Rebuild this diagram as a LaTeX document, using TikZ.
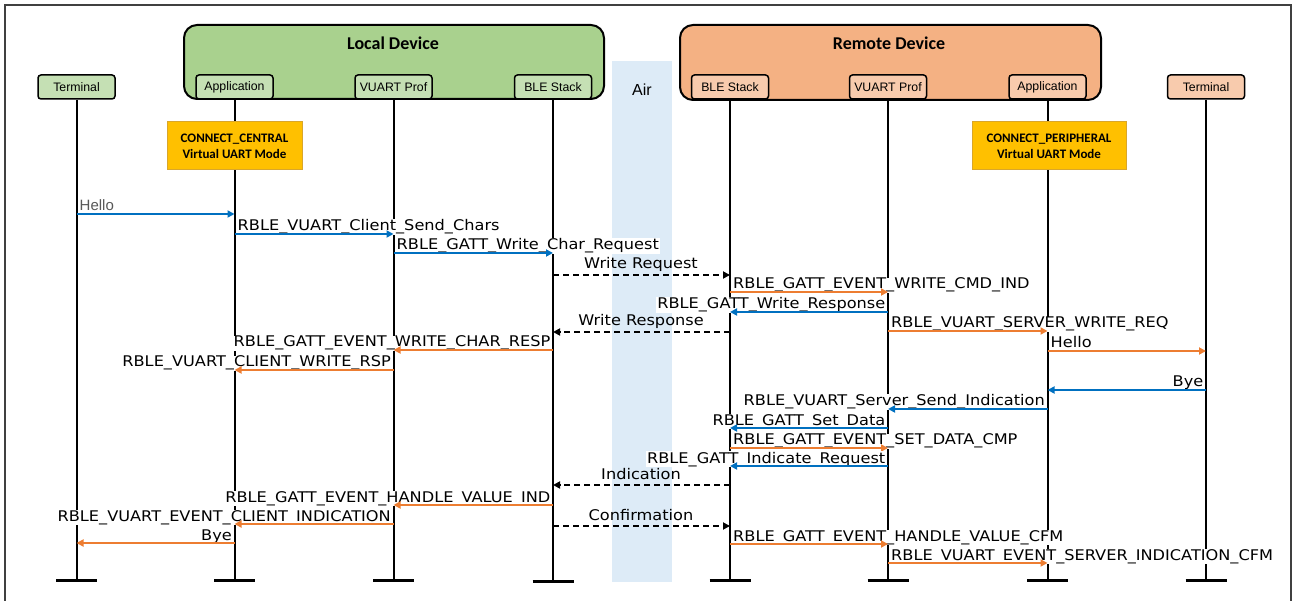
\documentclass[tikz,border=0pt]{standalone}
\usepackage{fontspec}
\usetikzlibrary{arrows.meta}
\newfontfamily\arialf{Liberation Sans}
\newfontfamily\calf{Carlito}
\newfontfamily\msgf{DejaVu Sans}[FakeStretch=1.10]
\definecolor{locg}{HTML}{A9D18E}
\definecolor{locsub}{HTML}{C5E0B4}
\definecolor{remo}{HTML}{F4B183}
\definecolor{remsub}{HTML}{F8CBAD}
\definecolor{airc}{HTML}{DDEBF7}
\definecolor{modef}{HTML}{FFC000}
\definecolor{moded}{HTML}{D9A62B}
\definecolor{blu}{HTML}{0070C0}
\definecolor{org}{HTML}{ED7D31}
\definecolor{hellog}{HTML}{595959}
\tikzset{
 devbox/.style={draw=black, line width=2pt, rounded corners=13pt, inner sep=0pt},
 subbox/.style={draw=black, line width=1.5pt, rounded corners=3pt, minimum width=77pt, minimum height=24pt, inner sep=0pt, font=\arialf\fontsize{12.3}{14}\selectfont},
 life/.style={line width=2pt},
 bar/.style={line width=3pt},
 modebox/.style={draw=moded, fill=modef, line width=1pt, minimum height=48pt, inner sep=0pt, align=center, font=\calf\bfseries\fontsize{13}{16}\selectfont},
 lbl/.style={fill=white, inner xsep=1pt, inner ysep=0.5pt, font=\msgf\fontsize{14.7}{17}\selectfont},
 dlbl/.style={inner sep=0pt, font=\msgf\fontsize{14.7}{17}\selectfont},
 tipstyle/.style={-{Triangle[length=7pt,width=7pt]}},
 bluemsg/.style={tipstyle, draw=blu, line width=1.8pt},
 orgmsg/.style={tipstyle, draw=org, line width=1.8pt},
 dashmsg/.style={tipstyle, draw=black, line width=1.8pt, dash pattern=on 6pt off 4pt},
}
\newcommand\msgR[5]{%
  \coordinate (ms) at (#1 |- 0,#3);
  \coordinate (me) at (#2 |- 0,#3);
  \node[lbl, anchor=base west] (ml) at ([shift={(2pt,3pt)}]ms) {#5};
  \draw[#4] (ms) -- (me);}
\newcommand\msgL[5]{%
  \coordinate (ms) at (#1 |- 0,#3);
  \coordinate (me) at (#2 |- 0,#3);
  \node[lbl, anchor=base east] (ml) at ([shift={(-1.5pt,3pt)}]ms) {#5};
  \draw[#4] (ms) -- (me);}
\newcommand\msgD[4]{%
  \coordinate (ms) at (#1 |- 0,#3);
  \coordinate (me) at (#2 |- 0,#3);
  \coordinate (mc) at (641,#3);
  \node[dlbl, anchor=base] (ml) at ([yshift=6pt]mc) {#4};
  \draw[dashmsg] (ms) -- (me);}
\begin{document}
\begin{tikzpicture}[x=1pt,y=-1pt]
\useasboundingbox (0,0) rectangle (1296,601);
\draw[draw=black!75, line width=1.2pt] (5,5) rectangle (1291,604);
% air band
\node[fill=airc, minimum width=60pt, minimum height=521pt, inner sep=0pt, anchor=north west] (air) at (612,61) {};
\node[font=\arialf\fontsize{16}{18}\selectfont] (airt) at (642,90) {Air};
% device boxes
\node[devbox, fill=locg, minimum width=420pt, minimum height=74pt, anchor=north west] (loc) at (183,24) {};
\node[font=\calf\bfseries\fontsize{18}{20}\selectfont] (loct) at (393,43) {Local Device};
\node[devbox, fill=remo, minimum width=421pt, minimum height=75pt, anchor=north west] (rem) at (679,24) {};
\node[font=\calf\bfseries\fontsize{18}{20}\selectfont] (remt) at (889,43) {Remote Device};
% sub boxes
\node[subbox, fill=locsub] (lT) at (76.5,87) {Terminal};
\node[subbox, fill=locsub] (lA) at (234.5,87) {Application};
\node[subbox, fill=locsub] (lV) at (393.5,87) {VUART Prof};
\node[subbox, fill=locsub] (lB) at (553,87) {BLE Stack};
\node[subbox, fill=remsub] (rB) at (730,87) {BLE Stack};
\node[subbox, fill=remsub] (rV) at (888,87) {VUART Prof};
\node[subbox, fill=remsub] (rA) at (1047.5,87) {Application};
\node[subbox, fill=remsub] (rT) at (1206,87) {Terminal};
% lifeline ends
\coordinate (elT) at (lT |- 0,580);
\coordinate (elA) at (lA |- 0,580);
\coordinate (elV) at (lV |- 0,580);
\coordinate (elB) at (lB |- 0,581.5);
\coordinate (erB) at (rB |- 0,580);
\coordinate (erV) at (rV |- 0,580);
\coordinate (erA) at (rA |- 0,580);
\coordinate (erT) at (rT |- 0,580);
\foreach \n/\e in {lT/elT,lA/elA,lV/elV,lB/elB,rB/erB,rV/erV,rA/erA,rT/erT}{
  \draw[life] (\n.south) -- (\e);
  \draw[bar] ([xshift=-20.5pt]\e) -- ([xshift=20.5pt]\e);
}
% mode boxes
\node[modebox, minimum width=135pt] (cm) at (234.5,146) {CONNECT\_CENTRAL\\Virtual UART Mode};
\node[modebox, minimum width=154pt] (pm) at (1049,146) {CONNECT\_PERIPHERAL\\Virtual UART Mode};
% messages
\msgR{lT}{lA}{214}{bluemsg}{\arialf\fontsize{15}{17}\selectfont\color{hellog}Hello}
\msgR{lA}{lV}{234}{bluemsg}{RBLE\_VUART\_Client\_Send\_Chars}
\msgR{lV}{lB}{253}{bluemsg}{RBLE\_GATT\_Write\_Char\_Request}
\msgD{lB}{rB}{275}{Write Request}
\msgR{rB}{rV}{292}{orgmsg}{RBLE\_GATT\_EVENT\_WRITE\_CMD\_IND}
\msgL{rV}{rB}{312}{bluemsg}{RBLE\_GATT\_Write\_Response}
\msgD{rB}{lB}{332}{Write Response}
\msgR{rV}{rA}{331}{orgmsg}{RBLE\_VUART\_SERVER\_WRITE\_REQ}
\msgL{lB}{lV}{350}{orgmsg}{RBLE\_GATT\_EVENT\_WRITE\_CHAR\_RESP}
\msgR{rA}{rT}{351}{orgmsg}{Hello}
\msgL{lV}{lA}{370}{orgmsg}{RBLE\_VUART\_CLIENT\_WRITE\_RSP}
\msgL{rT}{rA}{390}{bluemsg}{Bye}
\msgL{rA}{rV}{409}{bluemsg}{RBLE\_VUART\_Server\_Send\_Indication}
\msgL{rV}{rB}{428}{bluemsg}{RBLE\_GATT\_Set\_Data}
\msgR{rB}{rV}{448}{orgmsg}{RBLE\_GATT\_EVENT\_SET\_DATA\_CMP}
\msgL{rV}{rB}{466}{bluemsg}{RBLE\_GATT\_Indicate\_Request}
\msgD{rB}{lB}{485}{Indication}
\msgL{lB}{lV}{505}{orgmsg}{RBLE\_GATT\_EVENT\_HANDLE\_VALUE\_IND}
\msgL{lV}{lA}{524}{orgmsg}{RBLE\_VUART\_EVENT\_CLIENT\_INDICATION}
\msgD{lB}{rB}{526}{Confirmation}
\msgR{rB}{rV}{544}{orgmsg}{RBLE\_GATT\_EVENT\_HANDLE\_VALUE\_CFM}
\msgL{lA}{lT}{543}{orgmsg}{Bye}
\msgR{rV}{rA}{563}{orgmsg}{RBLE\_VUART\_EVENT\_SERVER\_INDICATION\_CFM}
\end{tikzpicture}
\end{document}
